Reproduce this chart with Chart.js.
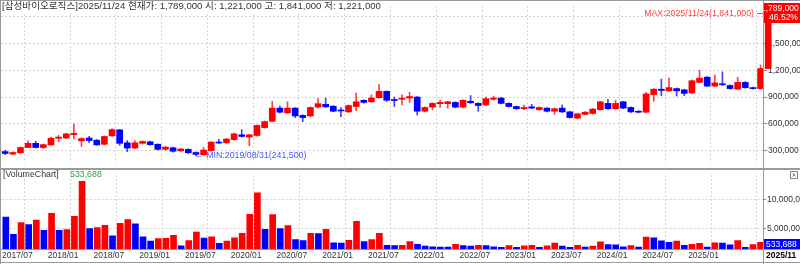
<!DOCTYPE html>
<html>
<head>
<meta charset="utf-8">
<script src="https://cdn.jsdelivr.net/npm/chart.js@4.4.1/dist/chart.umd.min.js"></script>
<style>
  html, body { margin: 0; padding: 0; background: #fff; }
  #wrap { position: relative; width: 800px; height: 264px; overflow: hidden; }
  #priceChart { position: absolute; left: 0; top: 0; }
  #volChart { position: absolute; left: 0; top: 169px; }
</style>
</head>
<body>
<div id="wrap">
  <canvas id="priceChart" width="800" height="169"></canvas>
  <canvas id="volChart" width="800" height="95"></canvas>
</div>
<script>
// monthly candles, 2017/07 .. 2025/11 (won)
const openP = [289000, 261000, 276000, 335000, 382000, 335000, 364000, 438000, 441000, 480000,
  409000, 441000, 417000, 371000, 466000, 533000, 388000, 329000, 382000, 399000,
  371000, 314000, 332000, 297000, 314000, 279000, 254000, 300000, 395000, 388000,
  424000, 477000, 452000, 470000, 558000, 629000, 777000, 724000, 777000, 695000,
  689000, 788000, 819000, 798000, 753000, 735000, 795000, 865000, 848000, 894000,
  965000, 869000, 876000, 890000, 901000, 742000, 788000, 827000, 827000, 841000,
  788000, 854000, 830000, 812000, 876000, 890000, 830000, 795000, 770000, 791000,
  759000, 777000, 742000, 777000, 735000, 664000, 706000, 717000, 759000, 830000,
  770000, 848000, 784000, 742000, 731000, 929000, 989000, 971000, 996000, 982000,
  947000, 1066000, 1124000, 1024000, 1049000, 1031000, 989000, 1066000, 1007000, 996000,
  1221000];
const highP = [303000, 286000, 342000, 409000, 406000, 374000, 452000, 470000, 494000, 600000,
  443000, 459000, 424000, 466000, 547000, 538000, 413000, 413000, 409000, 406000,
  377000, 346000, 339000, 324000, 321000, 286000, 335000, 403000, 427000, 438000,
  494000, 536000, 483000, 589000, 632000, 854000, 801000, 848000, 784000, 703000,
  791000, 883000, 890000, 806000, 784000, 812000, 947000, 872000, 925000, 1042000,
  971000, 901000, 925000, 954000, 907000, 791000, 837000, 865000, 854000, 848000,
  872000, 918000, 837000, 901000, 912000, 897000, 837000, 801000, 812000, 819000,
  791000, 784000, 777000, 812000, 742000, 721000, 738000, 774000, 854000, 876000,
  865000, 854000, 791000, 748000, 954000, 996000, 1102000, 1113000, 1003000, 989000,
  1095000, 1201000, 1130000, 1148000, 1183000, 1039000, 1124000, 1074000, 1013000, 1261000,
  1841000];
const lowP = [254000, 254000, 268000, 332000, 329000, 324000, 358000, 399000, 435000, 430000,
  346000, 388000, 360000, 364000, 459000, 360000, 289000, 321000, 374000, 360000,
  307000, 307000, 282000, 289000, 268000, 241500, 247000, 293000, 377000, 380000,
  417000, 452000, 353000, 462000, 551000, 621000, 724000, 717000, 671000, 625000,
  682000, 780000, 784000, 735000, 682000, 727000, 748000, 833000, 841000, 886000,
  851000, 795000, 812000, 841000, 700000, 735000, 759000, 784000, 777000, 780000,
  780000, 830000, 742000, 806000, 865000, 823000, 788000, 763000, 759000, 770000,
  753000, 735000, 706000, 727000, 664000, 657000, 700000, 710000, 753000, 763000,
  763000, 770000, 727000, 724000, 724000, 854000, 918000, 965000, 912000, 918000,
  939000, 1060000, 1018000, 1018000, 1031000, 989000, 982000, 1000000, 989000, 989000,
  1221000];
const closeP = [268000, 279000, 335000, 382000, 335000, 367000, 438000, 452000, 488000, 494000,
  435000, 413000, 364000, 459000, 536000, 382000, 329000, 388000, 403000, 367000,
  314000, 339000, 293000, 318000, 276000, 258000, 307000, 395000, 385000, 430000,
  488000, 459000, 477000, 583000, 625000, 777000, 731000, 777000, 689000, 671000,
  784000, 827000, 791000, 742000, 745000, 806000, 848000, 841000, 890000, 965000,
  865000, 862000, 890000, 907000, 742000, 784000, 830000, 841000, 848000, 788000,
  865000, 837000, 806000, 883000, 890000, 830000, 795000, 770000, 784000, 777000,
  784000, 742000, 770000, 735000, 671000, 713000, 731000, 766000, 848000, 770000,
  830000, 777000, 735000, 731000, 936000, 989000, 975000, 1007000, 971000, 943000,
  1084000, 1113000, 1024000, 1060000, 1039000, 996000, 1066000, 1007000, 996000, 1221000,
  1789000];
const volume = [7020000, 4060000, 6100000, 5730000, 6530000, 4760000, 7660000, 4760000, 4870000, 7180000,
  13200000, 5030000, 5240000, 5620000, 3790000, 5940000, 6590000, 5890000, 3630000, 2880000,
  3310000, 3360000, 3900000, 2070000, 2980000, 4440000, 3410000, 3630000, 2500000, 2880000,
  3470000, 4220000, 7500000, 11210000, 4920000, 7450000, 5030000, 5570000, 3150000, 2980000,
  4220000, 4170000, 4920000, 2610000, 2550000, 3040000, 6320000, 2820000, 3150000, 4220000,
  2180000, 2120000, 2180000, 2820000, 2340000, 2020000, 1910000, 1880000, 1860000, 2340000,
  2120000, 2020000, 2180000, 2120000, 1910000, 1800000, 2120000, 1800000, 2070000, 2180000,
  1800000, 2070000, 2550000, 2020000, 1800000, 2180000, 1860000, 2020000, 2770000, 2290000,
  2260000, 1910000, 2120000, 1860000, 3580000, 3470000, 2930000, 2660000, 2880000, 2180000,
  2340000, 2500000, 1860000, 2610000, 2550000, 2230000, 2980000, 1800000, 2290000, 2660000,
  533688];

const priceTicks = [300000, 600000, 900000, 1200000, 1500000, 1800000];
const volumeTicks = [5000000, 10000000];
const gridMonths = [0, 6, 12, 18, 24, 30, 36, 42, 48, 54, 60, 66, 72, 78, 84, 90, 96];

const stockName = '삼성바이오로직스';
const lastDate = '2025/11/24';
const minDate = '2019/08/31';

// month labels 2017/07 ...
const months = [];
let yy = 2017, mm = 7;
while (months.length < openP.length) {
  months.push(yy + '/' + String(mm).padStart(2, '0'));
  mm++;
  if (mm > 12) { mm = 1; yy++; }
}

const RED = '#ff0000';
const BLUE = '#0000ff';
const GRID = '#d4d4d4';
const FRAME = '#9a9a9a';
const FONT = '"Liberation Sans", "Noto Sans CJK KR", sans-serif';
const X_MIN = -0.55;
const X_MAX = 99.32;

Chart.defaults.font.family = FONT;
Chart.defaults.font.size = 8.5;
Chart.defaults.color = '#333';

const fmt = v => Math.round(v).toLocaleString('en-US');
const last = openP.length - 1;

const bodies = openP.map((o, i) => ({ x: i, y: [o, closeP[i]] }));
const wicks = openP.map((o, i) => ({ x: i, y: [lowP[i], highP[i]] }));
const candleColors = openP.map((o, i) => closeP[i] >= o ? RED : BLUE);
const wickColors = openP.map((o, i) => closeP[i] >= o ? 'rgba(255,0,0,0.75)' : 'rgba(0,0,255,0.75)');
const volColors = volume.map((v, i) => i > 0 && v > volume[i - 1] ? RED : BLUE);

const priceMarks = {
  id: 'priceMarks',
  afterDraw(chart) {
    const { ctx, scales } = chart;
    const x = scales.x, y = scales.y;
    ctx.save();

    // header
    const header = '[' + stockName + ']' + lastDate + ' 현재가: ' + fmt(closeP[last]) +
      ' 시: ' + fmt(openP[last]) + ' 고: ' + fmt(highP[last]) + ' 저: ' + fmt(lowP[last]);
    ctx.font = '9.6px ' + FONT;
    ctx.fillStyle = '#fff';
    ctx.fillRect(1, 1, ctx.measureText(header).width + 3, 11);
    ctx.fillStyle = '#333';
    ctx.textBaseline = 'middle';
    ctx.textAlign = 'left';
    ctx.fillText(header, 2, 6.5);

    // max
    const maxY = y.getPixelForValue(highP[last]);
    ctx.font = '8.8px ' + FONT;
    ctx.fillStyle = '#ff4646';
    ctx.textAlign = 'right';
    ctx.fillText('MAX:' + lastDate + '(' + fmt(highP[last]) + ')', 754, maxY);
    ctx.strokeStyle = '#ff4646';
    ctx.beginPath();
    ctx.moveTo(757, Math.round(maxY) + 0.5);
    ctx.lineTo(763, Math.round(maxY) + 0.5);
    ctx.stroke();

    // min
    let mi = 0;
    lowP.forEach((v, i) => { if (v < lowP[mi]) mi = i; });
    ctx.fillStyle = '#4656ff';
    ctx.textAlign = 'left';
    ctx.fillText('\u2190 MIN:' + minDate + '(' + fmt(lowP[mi]) + ')', x.getPixelForValue(mi) - 1, y.getPixelForValue(lowP[mi]));

    // frame
    ctx.strokeStyle = FRAME;
    ctx.lineWidth = 1;
    ctx.beginPath();
    ctx.moveTo(0.5, 0); ctx.lineTo(0.5, 169);
    ctx.moveTo(0, 0.5); ctx.lineTo(800, 0.5);
    ctx.moveTo(0, 168.5); ctx.lineTo(800, 168.5);
    ctx.moveTo(763.5, 0); ctx.lineTo(763.5, 169);
    ctx.stroke();

    // current price box
    ctx.font = '8.5px ' + FONT;
    ctx.fillStyle = RED;
    ctx.fillRect(764, 3, 36, 20);
    ctx.save();
    ctx.beginPath();
    ctx.rect(764, 3, 36, 20);
    ctx.clip();
    ctx.fillStyle = '#fff';
    ctx.textAlign = 'left';
    ctx.fillText(fmt(closeP[last]), 761, 8.5);
    ctx.textAlign = 'center';
    const pct = (closeP[last] - closeP[last - 1]) / closeP[last - 1] * 100;
    ctx.fillText(pct.toFixed(2) + '%', 783.5, 18);
    ctx.restore();

    ctx.restore();
  }
};

const volMarks = {
  id: 'volMarks',
  afterDraw(chart) {
    const { ctx } = chart;
    ctx.save();
    ctx.font = '8.8px ' + FONT;
    ctx.textBaseline = 'middle';
    ctx.textAlign = 'left';
    ctx.fillStyle = '#333';
    ctx.fillText('[VolumeChart]', 3, 6);
    ctx.fillStyle = '#3c9a3c';
    ctx.fillText(fmt(volume[last]), 70, 6);

    // frame
    ctx.strokeStyle = FRAME;
    ctx.lineWidth = 1;
    ctx.beginPath();
    ctx.moveTo(0.5, 0); ctx.lineTo(0.5, 95);
    ctx.moveTo(0, 0.5); ctx.lineTo(800, 0.5);
    ctx.moveTo(0, 80.5); ctx.lineTo(800, 80.5);
    ctx.moveTo(0, 93.5); ctx.lineTo(800, 93.5);
    ctx.moveTo(763.5, 0); ctx.lineTo(763.5, 95);
    ctx.stroke();

    // close button
    ctx.strokeStyle = '#888';
    ctx.strokeRect(790.5, 2.5, 7, 7);
    ctx.beginPath();
    ctx.moveTo(792.5, 4.5); ctx.lineTo(795.5, 7.5);
    ctx.moveTo(795.5, 4.5); ctx.lineTo(792.5, 7.5);
    ctx.stroke();

    // current volume box
    ctx.font = '8.5px ' + FONT;
    ctx.fillStyle = BLUE;
    ctx.fillRect(764, 70, 36, 10);
    ctx.fillStyle = '#fff';
    ctx.fillText(fmt(volume[last]), 766, 75.5);

    // current month
    ctx.fillStyle = '#000';
    ctx.font = 'bold 8.5px ' + FONT;
    ctx.fillText(months[last], 766, 87);
    ctx.restore();
  }
};

new Chart(document.getElementById('priceChart'), {
  type: 'bar',
  data: {
    datasets: [
      { data: bodies, backgroundColor: candleColors, barThickness: 6, minBarLength: 1, grouped: false, clip: false },
      { data: wicks, backgroundColor: wickColors, barThickness: 1, grouped: false, clip: false }
    ]
  },
  options: {
    responsive: false,
    animation: false,
    layout: { padding: { left: 1, top: 2, right: 0, bottom: 1 } },
    plugins: { legend: { display: false }, tooltip: { enabled: false } },
    scales: {
      x: {
        type: 'linear', min: X_MIN, max: X_MAX, offset: false,
        afterBuildTicks: axis => { axis.ticks = gridMonths.map(i => ({ value: i - 0.5 })); },
        afterFit: s => { s.height = 0; },
        grid: { color: GRID, drawTicks: false },
        border: { display: false, dash: [2, 2] },
        ticks: { display: false }
      },
      y: {
        position: 'right', min: 162200, max: 1921800,
        afterBuildTicks: axis => { axis.ticks = priceTicks.map(v => ({ value: v })); },
        afterFit: s => { s.width = 37; },
        grid: { color: GRID, tickLength: 4, tickColor: '#888', tickBorderDash: [] },
        border: { color: FRAME, dash: [2, 2] },
        ticks: { crossAlign: 'near', padding: 1, callback: v => fmt(v) }
      }
    }
  },
  plugins: [priceMarks]
});

new Chart(document.getElementById('volChart'), {
  type: 'bar',
  data: {
    datasets: [
      { data: volume.map((v, i) => ({ x: i, y: v })), backgroundColor: volColors, barThickness: 6, grouped: false }
    ]
  },
  options: {
    responsive: false,
    animation: false,
    layout: { padding: { left: 1, top: 1, right: 0, bottom: 0 } },
    plugins: { legend: { display: false }, tooltip: { enabled: false } },
    scales: {
      x: {
        type: 'linear', min: X_MIN, max: X_MAX, offset: false,
        afterBuildTicks: axis => { axis.ticks = gridMonths.map(i => ({ value: i - 0.5 })); },
        afterFit: s => { s.height = 15; },
        grid: { color: GRID, drawTicks: false },
        border: { display: false, dash: [2, 2] },
        ticks: {
          align: 'start', maxRotation: 0, autoSkip: false, padding: 2,
          // the last gridline gets no label, the current month is shown at the axis instead
          callback: (v, idx, ticks) => idx === ticks.length - 1 ? '' : months[Math.round(v + 0.5)]
        }
      },
      y: {
        position: 'right', min: 1530000, max: 14270000,
        afterBuildTicks: axis => { axis.ticks = volumeTicks.map(v => ({ value: v })); },
        afterFit: s => { s.width = 37; },
        grid: { color: GRID, tickLength: 3, tickColor: '#888', tickBorderDash: [] },
        border: { color: FRAME, dash: [2, 2] },
        ticks: { crossAlign: 'near', padding: 1, callback: v => fmt(v) }
      }
    }
  },
  plugins: [volMarks]
});
</script>
</body>
</html>
